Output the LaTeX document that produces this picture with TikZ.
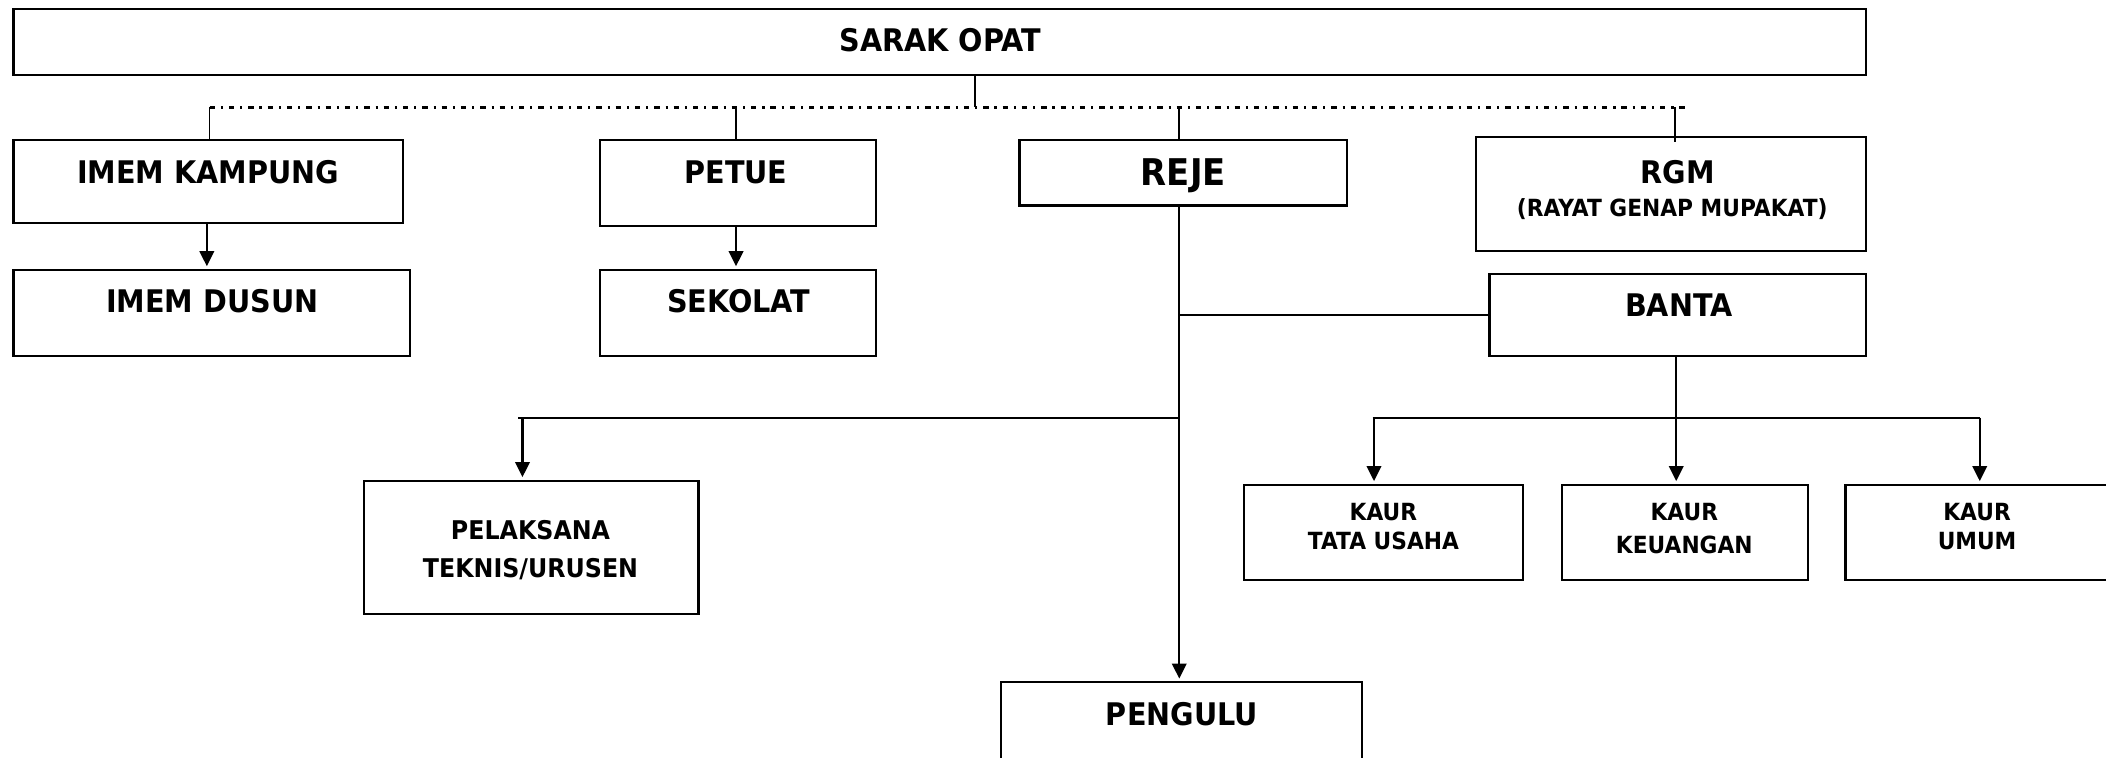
\documentclass[tikz,border=0pt]{standalone}
\usepackage{fontspec}
\setmainfont{DejaVu Sans}[FakeStretch=0.92]
\usetikzlibrary{arrows.meta,fit}
\tikzset{
  box/.style={draw, line width=0.8pt, inner sep=0pt},
  lbl/.style={font=\bfseries\fontsize{11.6}{13}\selectfont, inner sep=0pt, anchor=center},
  lblbig/.style={font=\bfseries\fontsize{13.7}{16}\selectfont, inner sep=0pt, anchor=center},
  lblsm/.style={font=\bfseries\fontsize{9.6}{11}\selectfont, inner sep=0pt, anchor=center},
  lblxs/.style={font=\bfseries\fontsize{8.8}{10}\selectfont, inner sep=0pt, anchor=center},
  conn/.style={line width=0.8pt},
  thin/.style={line width=0.7pt},
  arr/.style={line width=0.8pt, -{Triangle[length=5.6pt,width=5.4pt]}, shorten >=1pt},
  dashdot/.style={line width=0.85pt, dash pattern=on 2pt off 2.2pt on 0.8pt off 2.2pt}
}
\begin{document}
\begin{tikzpicture}[x=0.5pt,y=-0.5pt]
\useasboundingbox (0,0) rectangle (1568,564);
% boxes
\node[box, fit={(10,7)(1389,56)}] (sarak) {};
\node[box, fit={(10,104)(300,166)}] (imk) {};
\node[box, fit={(447,104)(652,168)}] (petue) {};
\node[box, fit={(759,104)(1003,153)}] (reje) {};
\node[box, fit={(1099,102)(1389,187)}] (rgm) {};
\node[box, fit={(10,201)(305,265)}] (imd) {};
\node[box, fit={(447,201)(652,265)}] (sekolat) {};
\node[box, fit={(1109,204)(1389,265)}] (banta) {};
\node[box, fit={(271,358)(520,457)}] (pel) {};
\node[box, fit={(745,508)(1014,590)}] (pengulu) {};
\node[box, fit={(926,361)(1134,432)}] (kt) {};
\node[box, fit={(1163,361)(1346,432)}] (kk) {};
\node[box, fit={(1374,361)(1590,432)}] (ku) {};
% texts
\node[lbl] (tsarak) at (700,30) {SARAK OPAT};
\node[lbl] (timk) at (155,128) {IMEM KAMPUNG};
\node[lbl] (tpetue) at (548,128) {PETUE};
\node[lblbig] (treje) at (881,131) {REJE};
\node[lbl] (trgm) at (1249,128) {RGM};
\node[lblxs] (trgm2) at (1245,156) {(RAYAT GENAP MUPAKAT)};
\node[lbl] (timd) at (158,224) {IMEM DUSUN};
\node[lbl] (tsek) at (550,224) {SEKOLAT};
\node[lbl] (tbanta) at (1250,227) {BANTA};
\node[lblsm] (tpel1) at (395,395) {PELAKSANA};
\node[lblsm] (tpel2) at (395,424) {TEKNIS/URUSEN};
\node[lbl] (tpeng) at (880,532) {PENGULU};
\node[lblxs] (tkt1) at (1030,381) {KAUR};
\node[lblxs] (tkt2) at (1030,403) {TATA USAHA};
\node[lblxs] (tkk1) at (1254,381) {KAUR};
\node[lblxs] (tkk2) at (1254,406) {KEUANGAN};
\node[lblxs] (tku1) at (1472,381) {KAUR};
\node[lblxs] (tku2) at (1472,403) {UMUM};
% coordinates
\coordinate (bt) at (726,80);
\coordinate (busL) at (156,80);
\coordinate (busR) at (1256,80);
\coordinate (bp) at (548,80);
\coordinate (br) at (878,80);
\coordinate (bg) at (1247,80);
\coordinate (bgEnd) at (1247,106);
\coordinate (a1) at (154,0);
\coordinate (a2) at (548,0);
\coordinate (rx) at (878,0);
\coordinate (pj) at (878,311);
\coordinate (pl) at (386,311);
\coordinate (pa) at (389,311);
\coordinate (bx) at (1248,0);
\coordinate (kj) at (1248,311);
\coordinate (kl) at (1022,311);
\coordinate (kla) at (1023,311);
\coordinate (kr) at (1474,311);
% connectors
\draw[thin] (sarak.south -| bt) -- (bt);
\draw[dashdot] (busL) -- (busR);
\draw[thin] (busL) -- (imk.north -| busL);
\draw[thin] (bp) -- (petue.north -| bp);
\draw[thin] (br) -- (reje.north -| br);
\draw[thin] (bg) -- (bgEnd);
\draw[arr] (imk.south -| a1) -- (imd.north -| a1);
\draw[arr] (petue.south -| a2) -- (sekolat.north -| a2);
\draw[arr] (reje.south -| rx) -- (pengulu.north -| rx);
\draw[conn] (banta.west) -- (banta.west -| rx);
\draw[conn] (pj) -- (pl);
\draw[arr] (pa) -- (pel.north -| pa);
\draw[conn] (banta.south -| bx) -- (kj);
\draw[conn] (kl) -- (kr);
\draw[arr] (kj) -- (kk.north -| kj);
\draw[arr] (kla) -- (kt.north -| kla);
\draw[arr] (kr) -- (ku.north -| kr);
\end{tikzpicture}
\end{document}
